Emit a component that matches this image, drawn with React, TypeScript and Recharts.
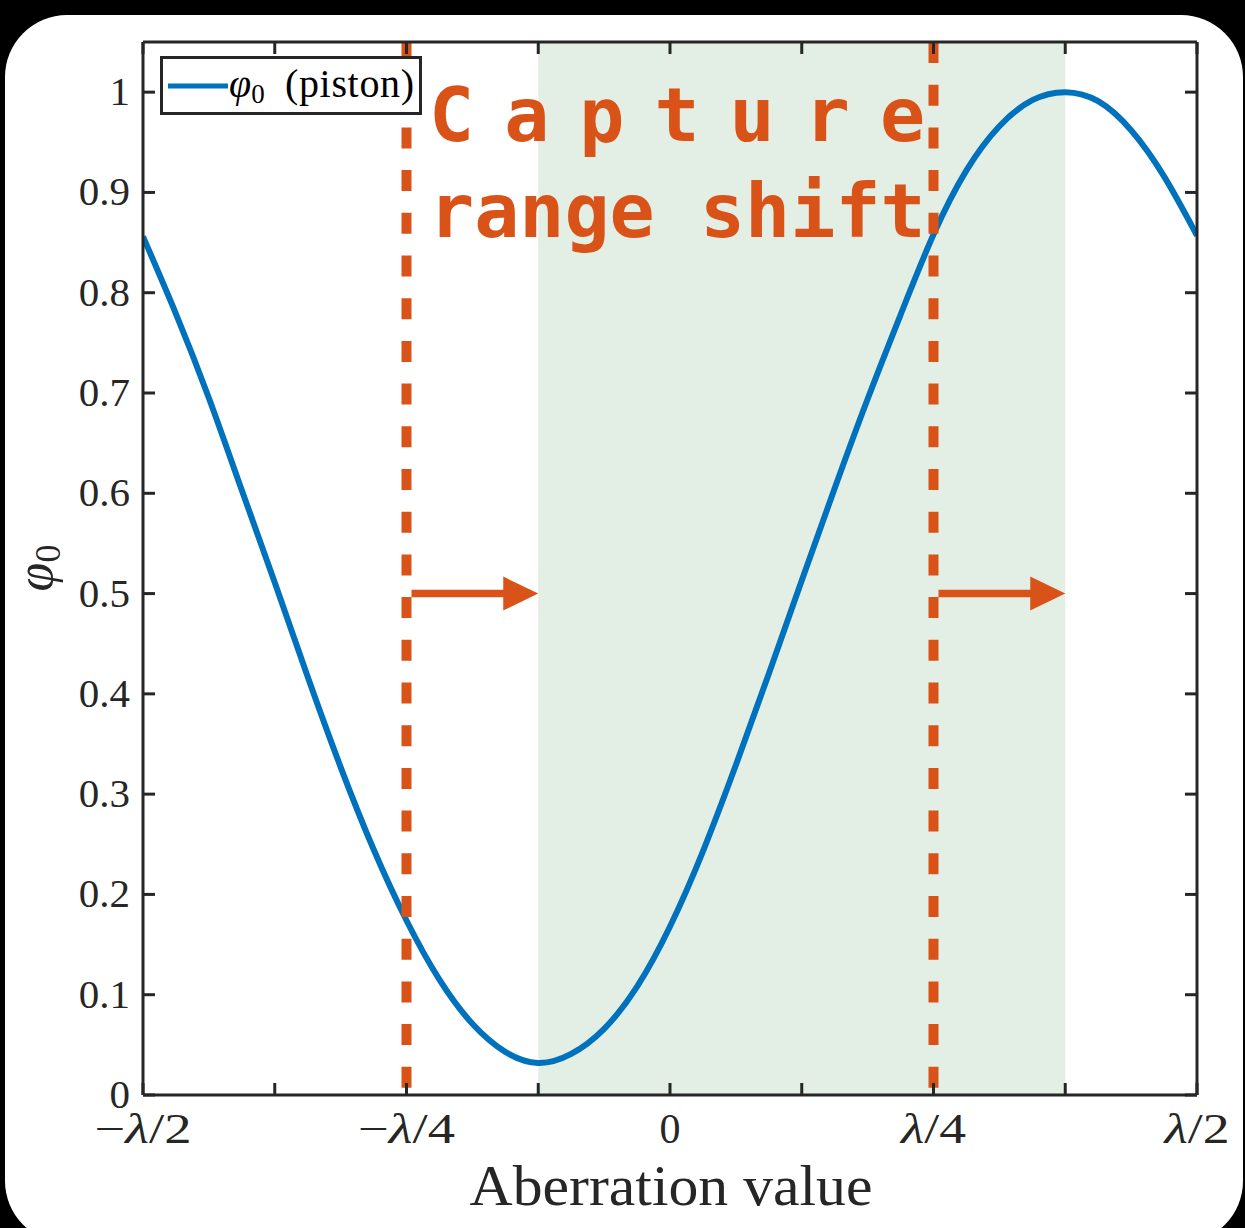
import React from 'react';
import { ComposedChart, Line, XAxis, YAxis, ReferenceArea, ReferenceLine } from 'recharts';

// Aberration in units of the wavelength λ
const aberration = [
  -0.5, -0.46875, -0.4375, -0.40625, -0.375, -0.34375, -0.3125, -0.28125,
  -0.25, -0.21875, -0.1875, -0.15625, -0.125, -0.09375, -0.0625, -0.03125,
  0, 0.03125, 0.0625, 0.09375, 0.125, 0.15625, 0.1875, 0.21875,
  0.25, 0.28125, 0.3125, 0.34375, 0.375, 0.40625, 0.4375, 0.46875, 0.5,
];

// φ0 response of the piston term
const piston = [
  0.856, 0.779, 0.695, 0.603, 0.511, 0.417, 0.327, 0.245,
  0.174, 0.115, 0.071, 0.043, 0.032, 0.041, 0.066, 0.108,
  0.168, 0.243, 0.329, 0.42, 0.513, 0.605, 0.694, 0.778,
  0.858, 0.922, 0.966, 0.992, 1.0, 0.991, 0.962, 0.916, 0.857,
];

const xTicks = [-0.5, -0.375, -0.25, -0.125, 0, 0.125, 0.25, 0.375, 0.5];
const xTickLabels = ['−λ/2', '', '−λ/4', '', '0', '', 'λ/4', '', 'λ/2'];
const yTicks = [0, 0.1, 0.2, 0.3, 0.4, 0.5, 0.6, 0.7, 0.8, 0.9, 1];
const yTickLabels = ['0', '0.1', '0.2', '0.3', '0.4', '0.5', '0.6', '0.7', '0.8', '0.9', '1'];

// Original capture range edges, and the shifted range
const captureEdges = [-0.25, 0.25];
const shiftedRange = [-0.125, 0.375];
const arrowLevel = 0.5;

const data = aberration.map((x, i) => ({ x, piston: piston[i] }));

const AXIS = '#262626';
const BLUE = '#0072BD';
const ORANGE = '#D95319';
const SHADE = '#E3EFE5';
const SERIF = '"Liberation Serif", "Times New Roman", serif';
const MONO = '"DejaVu Sans Mono", monospace';
const TICK_LEN = 12;

function lambdaText(label: string) {
  const parts = label.split('λ');
  if (parts.length === 1) return label;
  return (
    <>
      {parts[0]}
      <tspan fontStyle="italic">λ</tspan>
      {parts[1]}
    </>
  );
}

// width of the typeset fraction labels
function labelWidth(label: string) {
  if (label.startsWith('−')) return 97;
  if (label.includes('λ')) return 65;
  return undefined;
}

function BottomTick(props: any) {
  const { x, y, payload } = props;
  const label = xTickLabels[xTicks.indexOf(payload.value)];
  const w = label ? labelWidth(label) : undefined;
  return (
    <g>
      <line x1={x} y1={y} x2={x} y2={y - TICK_LEN} stroke={AXIS} strokeWidth={3} />
      {label ? (
        <text
          x={x}
          y={y + 48}
          textAnchor="middle"
          fontFamily={SERIF}
          fontSize={42}
          fill={AXIS}
          textLength={w}
          lengthAdjust={w ? 'spacingAndGlyphs' : undefined}
        >
          {lambdaText(label)}
        </text>
      ) : null}
    </g>
  );
}

function TopTick(props: any) {
  const { x, y } = props;
  return <line x1={x} y1={y} x2={x} y2={y + TICK_LEN} stroke={AXIS} strokeWidth={3} />;
}

function LeftTick(props: any) {
  const { x, y, payload } = props;
  const label = yTickLabels[yTicks.indexOf(payload.value)];
  return (
    <g>
      <line x1={x} y1={y} x2={x + TICK_LEN} y2={y} stroke={AXIS} strokeWidth={3} />
      <text x={x - 13} y={y + 13} textAnchor="end" fontFamily={SERIF} fontSize={41} fill={AXIS}>
        {label}
      </text>
    </g>
  );
}

function RightTick(props: any) {
  const { x, y } = props;
  return <line x1={x} y1={y} x2={x - TICK_LEN} y2={y} stroke={AXIS} strokeWidth={3} />;
}

function ShiftArrow(props: any) {
  const { x1, y1, x2 } = props;
  const head = 35;
  const half = 17;
  return (
    <g>
      <line x1={x1 + 5} y1={y1} x2={x2 - head + 2} y2={y1} stroke={ORANGE} strokeWidth={7.5} />
      <polygon
        points={`${x2},${y1} ${x2 - head},${y1 - half} ${x2 - head},${y1 + half}`}
        fill={ORANGE}
      />
    </g>
  );
}

export default function App() {
  const axisLine = { stroke: AXIS, strokeWidth: 3 };
  return (
    <div
      style={{
        position: 'absolute',
        left: 0,
        top: 0,
        width: 1245,
        height: 1228,
        background: '#000',
        overflow: 'hidden',
      }}
    >
      <div
        style={{
          position: 'absolute',
          left: 5,
          top: 15,
          width: 1238,
          height: 1228,
          borderRadius: 62,
          background: '#fff',
        }}
      />
      <div style={{ position: 'absolute', left: 0, top: 0 }}>
        <ComposedChart
          width={1245}
          height={1228}
          data={data}
          margin={{ top: 41, right: 47, bottom: 132, left: 142 }}
        >
          <ReferenceArea
            x1={shiftedRange[0]}
            x2={shiftedRange[1]}
            y1={0}
            y2={1.05}
            fill={SHADE}
            fillOpacity={1}
            stroke="none"
          />
          <Line
            type="natural"
            dataKey="piston"
            stroke={BLUE}
            strokeWidth={6}
            dot={false}
            activeDot={false}
            isAnimationActive={false}
          />
          {captureEdges.map((edge) => (
            <ReferenceLine
              key={`edge-${edge}`}
              segment={[
                { x: edge, y: 1.05 },
                { x: edge, y: 0 },
              ]}
              stroke={ORANGE}
              strokeWidth={10}
              strokeDasharray="21 21.7"
            />
          ))}
          {captureEdges.map((edge, i) => (
            <ReferenceLine
              key={`arrow-${edge}`}
              segment={[
                { x: edge, y: arrowLevel },
                { x: shiftedRange[i], y: arrowLevel },
              ]}
              stroke={ORANGE}
              shape={ShiftArrow}
            />
          ))}
          <XAxis
            dataKey="x"
            type="number"
            domain={[-0.5, 0.5]}
            ticks={xTicks}
            interval={0}
            height={1}
            tickSize={0}
            tickMargin={0}
            tickLine={false}
            axisLine={axisLine}
            tick={<BottomTick />}
            allowDataOverflow
          />
          <XAxis
            xAxisId="top"
            orientation="top"
            dataKey="x"
            type="number"
            domain={[-0.5, 0.5]}
            ticks={xTicks}
            interval={0}
            height={1}
            tickSize={0}
            tickMargin={0}
            tickLine={false}
            axisLine={axisLine}
            tick={<TopTick />}
            allowDataOverflow
          />
          <YAxis
            type="number"
            domain={[0, 1.05]}
            ticks={yTicks}
            interval={0}
            width={1}
            tickSize={0}
            tickMargin={0}
            tickLine={false}
            axisLine={axisLine}
            tick={<LeftTick />}
            allowDataOverflow
          />
          <YAxis
            yAxisId="right"
            orientation="right"
            type="number"
            domain={[0, 1.05]}
            ticks={yTicks}
            interval={0}
            width={1}
            tickSize={0}
            tickMargin={0}
            tickLine={false}
            axisLine={axisLine}
            tick={<RightTick />}
            allowDataOverflow
          />
        </ComposedChart>
      </div>
      <svg
        width={1245}
        height={1228}
        style={{ position: 'absolute', left: 0, top: 0, pointerEvents: 'none' }}
      >
        {/* legend */}
        <rect x={161.5} y={57.5} width={259} height={56} fill="#fff" stroke={AXIS} strokeWidth={3} />
        <line x1={168} y1={86} x2={228} y2={86} stroke={BLUE} strokeWidth={5} />
        <text fontFamily={SERIF} fill="#000">
          <tspan x={229} y={97} fontSize={40} fontStyle="italic">φ</tspan>
          <tspan fontSize={27} dy={6}>0</tspan>
        </text>
        <text x={285} y={97} fontFamily={SERIF} fontSize={40} textLength={129} fill="#000">
          (piston)
        </text>

        {/* annotation */}
        <text
          x={429}
          y={141}
          fontFamily={MONO}
          fontWeight="bold"
          fontSize={75}
          letterSpacing={30}
          fill={ORANGE}
        >
          Capture
        </text>
        <text x={429} y={237} fontFamily={MONO} fontWeight="bold" fontSize={75} fill={ORANGE}>
          range shift
        </text>

        {/* axis titles */}
        <text
          x={671}
          y={1205}
          textAnchor="middle"
          fontFamily={SERIF}
          fontSize={56}
          textLength={403}
          lengthAdjust="spacingAndGlyphs"
          fill={AXIS}
        >
          Aberration value
        </text>
        <text
          x={52}
          y={568}
          transform="rotate(-90 52 568)"
          textAnchor="middle"
          fontFamily={SERIF}
          fontSize={52}
          fill={AXIS}
        >
          <tspan fontStyle="italic">φ</tspan>
          <tspan fontSize={36} dy={8}>0</tspan>
        </text>
      </svg>
    </div>
  );
}
